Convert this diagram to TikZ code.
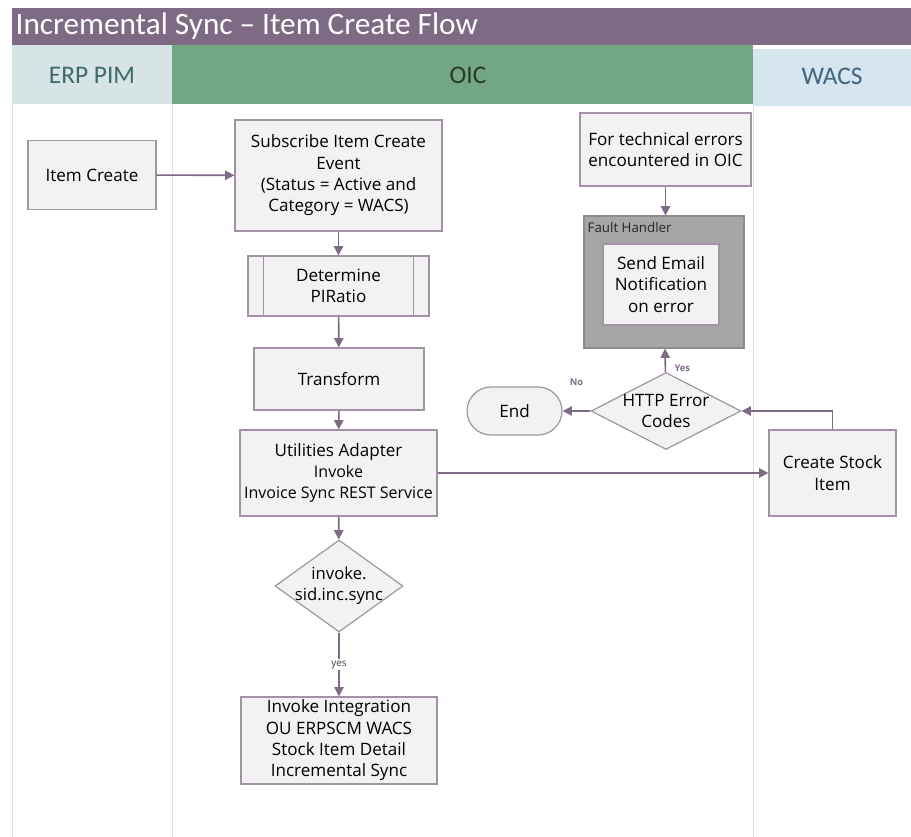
\documentclass[tikz,border=0pt]{standalone}
\usepackage{fontspec}
\setmainfont{Open Sans}
\newfontfamily\headfont{Carlito}
\usetikzlibrary{shapes.geometric,arrows.meta}
\definecolor{plum}{RGB}{127,106,133}
\definecolor{erpbg}{RGB}{214,228,230}
\definecolor{oicbg}{RGB}{115,166,130}
\definecolor{wacsbg}{RGB}{213,230,238}
\definecolor{boxfill}{RGB}{242,242,242}
\definecolor{boxline}{RGB}{163,146,166}
\definecolor{faultfill}{RGB}{166,166,166}
\definecolor{faultline}{RGB}{140,140,140}
\definecolor{laneline}{RGB}{224,224,224}

\begin{document}
\begin{tikzpicture}[x=0.75pt, y=-0.75pt,
    box/.style={draw=boxline, fill=boxfill, line width=0.9pt, align=center, text=black,
      font=\fontsize{12.8}{16}\selectfont, inner sep=1pt},
    dia/.style={diamond, draw=boxline, fill=boxfill, line width=0.9pt, inner sep=0pt},
    diatext/.style={align=center, text=black, font=\fontsize{12.8}{16}\selectfont},
    flow/.style={draw=plum, line width=1.2pt, -{Triangle[length=7pt,width=7pt]}},
    tag/.style={font=\fontsize{7}{8}\selectfont\bfseries, text=plum},
    lanehead/.style={font=\headfont\fontsize{19}{21}\selectfont}]
  \useasboundingbox (0,0) rectangle (911,837);

  % Title and lanes
  \fill[plum] (12,8) rectangle (911,45);
  \node[anchor=west, text=white, font=\headfont\fontsize{23.4}{26}\selectfont] (title) at (11,26) {Incremental Sync – Item Create Flow};
  \fill[erpbg] (12,45) rectangle (172,104);
  \fill[oicbg] (172,45) rectangle (753,104);
  \fill[wacsbg] (753,49) rectangle (911,106);
  \node[lanehead, text={rgb,255:red,63;green,104;blue,108}] (erp) at (92,75) {ERP PIM};
  \node[lanehead, text={rgb,255:red,40;green,56;blue,45}] (oic) at (468,75) {OIC};
  \node[lanehead, text={rgb,255:red,62;green,100;blue,128}] (wacs) at (832,76) {WACS};
  \draw[laneline] (12,104) -- (12,837);
  \draw[laneline] (172,104) -- (172,837);
  \draw[laneline] (753,106) -- (753,837);

  % Main flow
  \node[box, minimum width=96pt, minimum height=51.75pt] (itemcreate) at (92,175) {Item Create};
  \node[box, minimum width=155.25pt, minimum height=83.25pt] (subscribe) at (338.5,175.5) {Subscribe Item Create\\Event\\(Status = Active and\\Category = WACS)};
  \node[box, minimum width=135.75pt, minimum height=45pt] (piratio) at (338.5,286) {Determine\\PIRatio};
  \draw[boxline, line width=0.9pt] ([xshift=12pt]piratio.north west) -- ([xshift=12pt]piratio.south west);
  \draw[boxline, line width=0.9pt] ([xshift=-12pt]piratio.north east) -- ([xshift=-12pt]piratio.south east);
  \node[box, minimum width=127.5pt, minimum height=46.5pt] (transform) at (339,379) {Transform};
  \node[box, minimum width=147.75pt, minimum height=64.5pt] (utilities) at (338.5,473) {Utilities Adapter\\{\fontsize{12}{15}\selectfont Invoke}\\{\fontsize{12}{15}\selectfont Invoice Sync REST Service}};
  \node[dia, minimum width=96pt, minimum height=69pt] (check) at (339,586) {};
  \node[diatext, font=\fontsize{12.5}{16}\selectfont] (checktext) at (check) {invoke.\\sid.inc.sync};
  \node[box, minimum width=147pt, minimum height=65.25pt] (integration) at (339,740.5) {Invoke Integration\\OU ERPSCM WACS\\Stock Item Detail\\Incremental Sync};

  % Error handling
  \node[box, minimum width=128.25pt, minimum height=54.75pt] (technical) at (665.5,149.5) {For technical errors\\encountered in OIC};
  \node[draw=faultline, fill=faultfill, line width=0.9pt, minimum width=120pt, minimum height=99pt] (fault) at (664,282) {};
  \node[anchor=north west, inner sep=0pt, font=\fontsize{10}{12}\selectfont, text=black!85] (faulttitle) at ([xshift=3pt,yshift=-5pt]fault.north west) {Fault Handler};
  \node[box, minimum width=87pt, minimum height=60.75pt] (email) at (661,284.5) {Send Email\\Notification\\on error};
  \node[dia, minimum width=112.5pt, minimum height=57.75pt] (http) at (666,411) {};
  \node[diatext] (httptext) at (http) {HTTP Error\\Codes};
  \node[box, draw=black!40, rounded corners=18pt, minimum width=71.25pt, minimum height=36pt] (end) at (514.5,411) {End};
  \node[box, minimum width=95.25pt, minimum height=64.5pt] (createstock) at (832.5,473) {Create Stock\\Item};

  % Connectors
  \draw[flow] (itemcreate) -- (subscribe);
  \draw[flow] (subscribe) -- (piratio);
  \draw[flow] (piratio) -- (transform);
  \draw[flow] (transform) -- (utilities);
  \draw[flow] (utilities) -- (check);
  \draw[flow] (check) -- node[fill=white, inner sep=1pt, font=\fontsize{7.5}{9}\selectfont, text=black!75] {yes} (integration);
  \draw[flow] (utilities) -- (createstock);
  \draw[flow] (createstock.north) |- (http.east);
  \draw[flow] (http) -- node[tag, above=15pt] {No} (end);
  \draw[flow] (http) -- node[tag, pos=0.15, right=3pt] {Yes} (fault);
  \draw[flow] (technical) -- (technical |- fault.north);
\end{tikzpicture}
\end{document}
